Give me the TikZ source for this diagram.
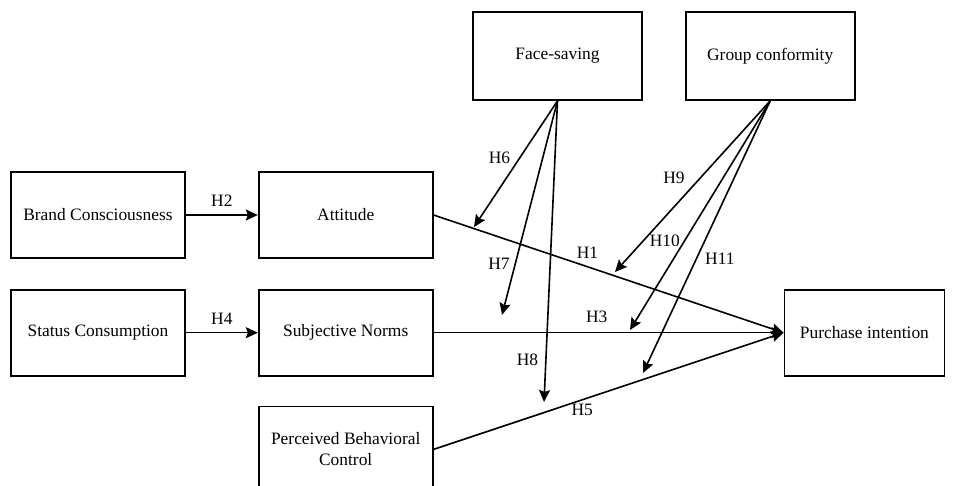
\documentclass[tikz,border=0pt]{standalone}
\usepackage{fontspec}
\setmainfont{Liberation Serif}
\usetikzlibrary{positioning, arrows.meta}

\tikzset{
  factor/.style={draw, line width=0.85pt, minimum width=87pt, minimum height=43pt,
    inner sep=2pt, align=center, font=\fontsize{8.7}{10.5}\selectfont},
  link/.style={draw, line width=0.8pt, -{Stealth[length=6pt, width=5.5pt, inset=1pt]}},
  hyp/.style={inner sep=1pt, font=\fontsize{8.7}{10}\selectfont}
}

\begin{document}
\begin{tikzpicture}[x=0.5pt, y=-0.5pt, node distance=36pt]
\useasboundingbox (0,0) rectangle (959,486);

\node[factor] (brand) at (98,215) {Brand Consciousness};
\node[factor, right=of brand] (attitude) {Attitude};
\node[factor, below=15pt of brand] (status) {Status Consumption};
\node[factor, right=of status] (norms) {Subjective Norms};
\node[factor, below=14.5pt of norms] (control) {Perceived Behavioral\\Control};
\node[factor, minimum width=84.5pt, minimum height=44pt] (face) at (557.5,56) {Face-saving};
\node[factor, minimum width=84.5pt, minimum height=44pt, right=21pt of face] (group) {Group conformity};
\node[factor, minimum width=80pt, right=175pt of norms] (intention) {Purchase intention};

% ends of the moderating arrows
\coordinate (h6end) at (474,227);
\coordinate (h7end) at (502,315);
\coordinate (h8end) at (544,402);
\coordinate (h9end) at (615,272);
\coordinate (h10end) at (630,330);
\coordinate (h11end) at (643,373);

\draw[link] (brand) -- node[hyp, above=2.6pt] {H2} (attitude);
\draw[link] (status) -- node[hyp, above=2.6pt] {H4} (norms);
\draw[link] (attitude.east) -- node[hyp, pos=0.44, above=2.6pt] {H1} (intention.west);
\draw[link] (norms) -- node[hyp, pos=0.466, above=3.6pt] {H3} (intention);
\draw[link] (control.east) -- node[hyp, pos=0.425, below=1pt] {H5} (intention.west);

\draw[link] (face.south) -- node[hyp, pos=0.45, left=3.5pt] {H6} (h6end);
\draw[link] (face.south) -- node[hyp, pos=0.76, left=1.5pt] {H7} (h7end);
\draw[link] (face.south) -- node[hyp, pos=0.86, left=2.5pt] {H8} (h8end);
\draw[link] (group.south) -- node[hyp, pos=0.45, left=6.5pt] {H9} (h9end);
\draw[link] (group.south) -- node[hyp, pos=0.61, left=1pt] {H10} (h10end);
\draw[link] (group.south) -- node[hyp, pos=0.58, right=3pt] {H11} (h11end);
\end{tikzpicture}
\end{document}
